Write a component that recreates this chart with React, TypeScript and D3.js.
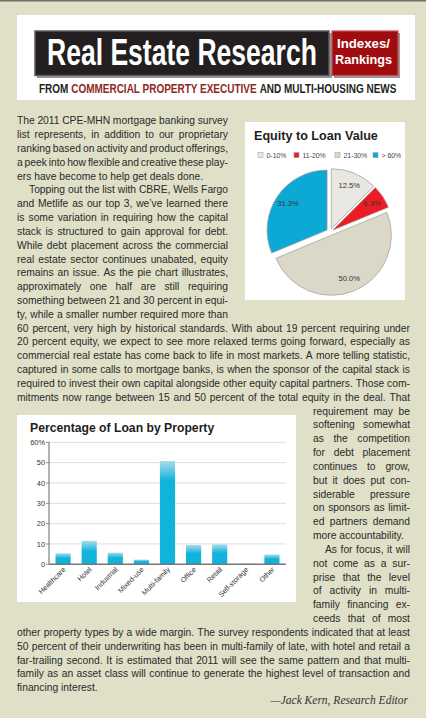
import React, { useMemo } from 'react';
import * as d3 from 'd3';

// ---------- DATA ----------
const propertyTypes = ['Healthcare', 'Hotel', 'Industrial', 'Mixed-use', 'Multi-family', 'Office', 'Retail', 'Self-storage', 'Other'];
const loanShare = [5.4, 11.5, 5.7, 2.3, 50.8, 9.5, 9.8, 0.4, 4.8];
const loanTicks = [0, 10, 20, 30, 40, 50, 60];

const equityBands = ['0-10%', '11-20%', '21-30%', '> 60%'];
const equityShare = [12.5, 6.3, 50.0, 31.3];
const equityColors = ['#e8e7e2', '#ed1c24', '#dbd8c8', '#0ca9d5'];

const subtitleParts = ['FROM ', 'COMMERCIAL PROPERTY EXECUTIVE', ' AND MULTI-HOUSING NEWS'];
const subtitleColors = ['#231f20', '#8e2a1d', '#231f20'];

// body text lines: [text, column, justify, indent]
type Line = [string, 'L' | 'F' | 'R', boolean, boolean];
const bodyLines: Line[] = [
  ['The 2011 CPE-MHN mortgage banking survey', 'L', true, false],
  ['list represents, in addition to our proprietary', 'L', true, false],
  ['ranking based on activity and product offerings,', 'L', true, false],
  ['a peek into how flexible and creative these play-', 'L', true, false],
  ['ers have become to help get deals done.', 'L', false, false],
  ['Topping out the list with CBRE, Wells Fargo', 'L', true, true],
  ['and Metlife as our top 3, we\u2019ve learned there', 'L', true, false],
  ['is some variation in requiring how the capital', 'L', true, false],
  ['stack is structured to gain approval for debt.', 'L', true, false],
  ['While debt placement across the commercial', 'L', true, false],
  ['real estate sector continues unabated, equity', 'L', true, false],
  ['remains an issue. As the pie chart illustrates,', 'L', true, false],
  ['approximately one half are still requiring', 'L', true, false],
  ['something between 21 and 30 percent in equi-', 'L', true, false],
  ['ty, while a smaller number required more than', 'L', true, false],
  ['60 percent, very high by historical standards. With about 19 percent requiring under', 'F', true, false],
  ['20 percent equity, we expect to see more relaxed terms going forward, especially as', 'F', true, false],
  ['commercial real estate has come back to life in most markets. A more telling statistic,', 'F', true, false],
  ['captured in some calls to mortgage banks, is when the sponsor of the capital stack is', 'F', true, false],
  ['required to invest their own capital alongside other equity capital partners. Those com-', 'F', true, false],
  ['mitments now range between 15 and 50 percent of the total equity in the deal. That', 'F', true, false],
  ['requirement may be', 'R', true, false],
  ['softening somewhat', 'R', true, false],
  ['as the competition', 'R', true, false],
  ['for debt placement', 'R', true, false],
  ['continues to grow,', 'R', true, false],
  ['but it does put con-', 'R', true, false],
  ['siderable pressure', 'R', true, false],
  ['on sponsors as limit-', 'R', true, false],
  ['ed partners demand', 'R', true, false],
  ['more accountability.', 'R', false, false],
  ['As for focus, it will', 'R', true, true],
  ['not come as a sur-', 'R', true, false],
  ['prise that the level', 'R', true, false],
  ['of activity in multi-', 'R', true, false],
  ['family financing ex-', 'R', true, false],
  ['ceeds that of most', 'R', true, false],
  ['other property types by a wide margin. The survey respondents indicated that at least', 'F', true, false],
  ['50 percent of their underwriting has been in multi-family of late, with hotel and retail a', 'F', true, false],
  ['far-trailing second. It is estimated that 2011 will see the same pattern and that multi-', 'F', true, false],
  ['family as an asset class will continue to generate the highest level of transaction and', 'F', true, false],
  ['financing interest.', 'F', false, false],
];

const BODY_FONT = '"Liberation Sans", Arial, Helvetica, sans-serif';
const HEAD_FONT = '"Liberation Sans", Arial, sans-serif';
const BODY_SIZE = 10.3;
const LINE_H = 13.83;
const FIRST_BASE = 124.2;
const COLS: Record<string, [number, number]> = { L: [17, 228], F: [17, 410], R: [313, 410] };

let measureCtx: CanvasRenderingContext2D | null = null;
function measure(text: string, font: string) {
  if (!measureCtx) measureCtx = document.createElement('canvas').getContext('2d')!;
  measureCtx.font = font;
  return measureCtx.measureText(text).width;
}

// bold text squeezed horizontally to a given width via a transform
function Condensed({ x, y, width, size, fill, text }: { x: number; y: number; width: number; size: number; fill: string; text: string }) {
  const natural = measure(text, `bold ${size}px ${HEAD_FONT}`);
  const sx = width / natural;
  return (
    <text transform={`translate(${x},${y}) scale(${sx},1)`} fontFamily={HEAD_FONT} fontWeight="bold" fontSize={size} fill={fill} style={{ whiteSpace: 'pre' }}>
      {text}
    </text>
  );
}

function useBodyWords() {
  return useMemo(() => {
    const font = `${BODY_SIZE}px ${BODY_FONT}`;
    const space = measure(' ', font);
    const out: { w: string; x: number; y: number; key: string }[] = [];
    bodyLines.forEach(([text, col, justify, indent], i) => {
      const [x0raw, x1] = COLS[col];
      const x0 = x0raw + (indent ? 12 : 0);
      const words = text.split(' ');
      const widths = words.map((w) => measure(w, font));
      const total = widths.reduce((a, b) => a + b, 0);
      const gap = justify && words.length > 1 ? (x1 - x0 - total) / (words.length - 1) : space;
      let x = x0;
      const y = FIRST_BASE + i * LINE_H;
      words.forEach((w, j) => {
        out.push({ w, x, y, key: `${i}-${j}` });
        x += widths[j] + gap;
      });
    });
    // subtitle parts scaled to fit 39..397
    const sfont = `bold 12.5px ${HEAD_FONT}`;
    const pw = subtitleParts.map((p) => measure(p, sfont));
    const k = 358 / pw.reduce((a, b) => a + b, 0);
    let sx = 39;
    const sub = subtitleParts.map((p, i) => {
      const r = { p, x: sx, w: pw[i] * k, c: subtitleColors[i] };
      sx += pw[i] * k;
      return r;
    });
    return { out, sub };
  }, []);
}

function PieChart() {
  const cx = 330, cy = 232, R = 60, explode = 3.5;
  const arcs = d3.pie<number>().sort(null).value((d) => d)(equityShare);
  const arcGen = d3.arc<d3.PieArcDatum<number>>().innerRadius(0).outerRadius(R);
  const labelArc = d3.arc<d3.PieArcDatum<number>>().innerRadius(32).outerRadius(62);
  const legendX = [258, 294, 335, 373];
  return (
    <g>
      <rect x={245} y={122} width={160} height={178} fill="#ffffff" />
      <text x={254} y={139.5} fontFamily={BODY_FONT} fontWeight="bold" fontSize={12.6} fill="#231f20">Equity to Loan Value</text>
      {equityBands.map((b, i) => (
        <g key={b}>
          <rect x={legendX[i]} y={152.6} width={5} height={5} fill={equityColors[i]} stroke="#999" strokeWidth={0.5} />
          <text x={legendX[i] + 8.5} y={157.6} fontFamily={BODY_FONT} fontSize={6.9} fill="#444">{b}</text>
        </g>
      ))}
      {arcs.map((a, i) => {
        const mid = (a.startAngle + a.endAngle) / 2;
        const dx = Math.sin(mid) * explode;
        const dy = -Math.cos(mid) * explode;
        const [lx, ly] = labelArc.centroid(a);
        return (
          <g key={i} transform={`translate(${cx + dx},${cy + dy})`}>
            <path d={arcGen(a) || ''} fill={equityColors[i]} stroke="#9c9c9c" strokeWidth={0.7} />
            <text x={lx} y={ly + 2.5} textAnchor="middle" fontFamily={BODY_FONT} fontSize={7.6} fill="#333">
              {equityShare[i].toFixed(1)}%
            </text>
          </g>
        );
      })}
    </g>
  );
}

function BarChart() {
  const x = d3.scaleBand<string>().domain(propertyTypes).range([49, 286]).paddingInner(0.42).paddingOuter(0.25);
  const y = d3.scaleLinear().domain([0, 60]).range([564.3, 442.3]);
  return (
    <g>
      <rect x={17} y={415} width={279} height={187} fill="#ffffff" />
      <text x={30} y={432} fontFamily={BODY_FONT} fontWeight="bold" fontSize={12.2} fill="#231f20">Percentage of Loan by Property</text>
      <defs>
        {propertyTypes.map((p, i) => {
          const top = y(loanShare[i]);
          const h = y(0) - top;
          return (
            <linearGradient key={p} id={`bg${i}`} gradientUnits="userSpaceOnUse" x1={0} x2={0} y1={top} y2={top + Math.max(2, Math.min(20, h * 0.45))}>
              <stop offset="0" stopColor="#a9dcea" />
              <stop offset="1" stopColor="#0fb3dc" />
            </linearGradient>
          );
        })}
      </defs>
      {loanTicks.map((t) => (
        <g key={t}>
          {t > 0 && <line x1={49} x2={286} y1={y(t)} y2={y(t)} stroke="#dedede" strokeWidth={1} />}
          <line x1={46} x2={49} y1={y(t)} y2={y(t)} stroke="#777" strokeWidth={0.8} />
          <text x={45} y={y(t) + 2.6} textAnchor="end" fontFamily={BODY_FONT} fontSize={7.4} fill="#333">
            {t === 60 ? '60%' : String(t)}
          </text>
        </g>
      ))}
      {propertyTypes.map((p, i) => (
        <rect key={p} x={x(p)!} y={y(loanShare[i])} width={x.bandwidth()} height={y(0) - y(loanShare[i])} fill={`url(#bg${i})`} />
      ))}
      <line x1={49} x2={49} y1={y(60)} y2={y(0)} stroke="#666" strokeWidth={1} />
      <line x1={49} x2={286} y1={y(0)} y2={y(0)} stroke="#777" strokeWidth={1.5} />
      {propertyTypes.map((p) => {
        const cxp = x(p)! + x.bandwidth() / 2 + 3;
        return (
          <text key={p} transform={`translate(${cxp},${570}) rotate(-45)`} textAnchor="end" fontFamily={BODY_FONT} fontSize={7.2} fill="#333">
            {p}
          </text>
        );
      })}
    </g>
  );
}

export default function App() {
  const { out: words, sub } = useBodyWords();
  return (
    <svg width={426} height={718} style={{ position: 'absolute', left: 0, top: 0, display: 'block' }}>
      <rect x={0} y={0} width={426} height={718} fill="#dfe0c7" />
      <rect x={0} y={0} width={426} height={1.5} fill="#6e6e62" />
      {/* header */}
      <rect x={17} y={15} width={398} height={85} fill="#ffffff" />
      <rect x={37} y={33} width={295} height={45} fill="#9a9a9a" />
      <rect x={35} y={31} width={294} height={44.5} fill="#231f20" stroke="#5c5c5c" strokeWidth={1.5} />
      <rect x={334} y={33} width={66} height={45} fill="#9a9a9a" />
      <rect x={332} y={31} width={66} height={44.5} fill="#a00d11" stroke="#c7504d" strokeWidth={1.2} />
      <Condensed x={47} y={65} width={270} size={36} fill="#fff" text="Real Estate Research" />
      <Condensed x={337} y={48} width={53} size={13.5} fill="#fff" text="Indexes/" />
      <Condensed x={335} y={63.5} width={57} size={13.5} fill="#fff" text="Rankings" />
      {sub.map((s, i) => (
        <Condensed key={i} x={s.x} y={92.5} width={s.w} size={12.5} fill={s.c} text={s.p} />
      ))}
      {/* body text */}
      <g fontFamily={BODY_FONT} fontSize={BODY_SIZE} fill="#2a2a2a">
        {words.map((w) => (
          <text key={w.key} x={w.x} y={w.y}>{w.w}</text>
        ))}
      </g>
      <PieChart />
      <BarChart />
      <text x={408} y={704} textAnchor="end" fontFamily='"Liberation Serif", "Times New Roman", serif' fontStyle="italic" fontSize={11.5} fill="#333">
        {'\u2014Jack Kern, Research Editor'}
      </text>
    </svg>
  );
}
